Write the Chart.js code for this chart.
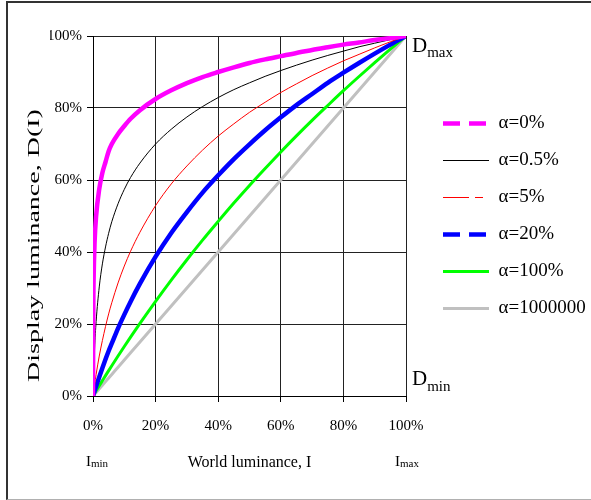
<!DOCTYPE html>
<html><head><meta charset="utf-8">
<script src="https://cdn.jsdelivr.net/npm/chart.js@4.4.0/dist/chart.umd.min.js"></script>
<style>
html,body{margin:0;padding:0;background:#fff;overflow:hidden}
#wrap{position:relative;width:591px;height:500px;overflow:hidden}
#frame{position:absolute;left:6px;top:1px;width:620px;height:499px;box-sizing:border-box;border-left:2px solid #333;border-top:2px solid #333;border-bottom:1px solid #b0b0b0;pointer-events:none}
canvas{position:absolute;left:0;top:0}
</style></head><body>
<div id="wrap"><canvas id="c" width="591" height="500"></canvas><div id="frame"></div></div>
<script>
// World luminance I (%) sample positions
const xValues = [0, 0.1, 0.2, 0.5, 1, 2, 3, 4, 5, 6, 8, 10, 12, 15, 20, 25, 30, 35, 40, 45, 50, 55, 60, 65, 70, 75, 80, 85, 90, 95, 100];
// Display luminance D(I) (%) for each alpha
const alpha0 = [0, 25, 32.5, 42.5, 50, 57.5, 62, 65, 68, 70, 72.8, 75, 77, 79.4, 82.5, 84.9, 86.9, 88.6, 90, 91.3, 92.5, 93.5, 94.4, 95.3, 96.1, 96.9, 97.6, 98.2, 98.9, 99.4, 100];
const alpha05 = [0, 3.4, 6.3, 13.1, 20.7, 30.3, 36.7, 41.4, 45.2, 48.4, 53.4, 57.4, 60.7, 64.7, 70.0, 74.1, 77.5, 80.4, 82.9, 85.1, 87.0, 88.8, 90.4, 91.9, 93.3, 94.6, 95.8, 97.0, 98.0, 99.0, 100];
const alpha5 = [0, 0.65, 1.3, 3.1, 6.0, 11.1, 15.4, 19.3, 22.8, 25.9, 31.4, 36.1, 40.2, 45.5, 52.9, 58.9, 63.9, 68.3, 72.2, 75.6, 78.8, 81.6, 84.3, 86.7, 89.0, 91.1, 93.1, 94.9, 96.7, 98.4, 100];
const alpha20 = [0, 0.28, 0.56, 1.4, 2.7, 5.3, 7.8, 10.2, 12.5, 14.6, 18.8, 22.6, 26.2, 31.2, 38.7, 45.3, 51.1, 56.5, 61.3, 65.8, 69.9, 73.8, 77.4, 80.8, 83.9, 87.0, 89.8, 92.5, 95.1, 97.6, 100];
const alpha100 = [0, 0.14, 0.29, 0.72, 1.44, 2.86, 4.26, 5.66, 7.04, 8.41, 11.1, 13.75, 16.35, 20.16, 26.3, 32.2, 37.85, 43.3, 48.5, 53.6, 58.5, 63.2, 67.8, 72.25, 76.55, 80.7, 84.8, 88.75, 92.6, 96.35, 100];
const alphaBig = [0, 0.1, 0.2, 0.5, 1, 2, 3, 4, 5, 6, 8, 10, 12, 15, 20, 25, 30, 35, 40, 45, 50, 55, 60, 65, 70, 75, 80, 85, 90, 95, 100];
const seriesLabels = ['α=0%', 'α=0.5%', 'α=5%', 'α=20%', 'α=100%', 'α=1000000'];
const seriesValues = [alpha0, alpha05, alpha5, alpha20, alpha100, alphaBig];
const tickValues = [0, 20, 40, 60, 80, 100];

// styles
const colors = ['#ff00ff', '#000000', '#ff0000', '#0000ff', '#00ff00', '#c0c0c0'];
const widths = [4.5, 1, 1, 4.5, 3, 3];
const legendDashes = [[17, 9], [], [26, 6, 8, 8, 3, 40], [17, 9], [], []];
const FONT = "'Liberation Serif', 'Times New Roman', serif";

Chart.defaults.font.family = FONT;
Chart.defaults.color = '#000';

const datasets = seriesValues.map((vals, i) => ({
  label: seriesLabels[i],
  data: xValues.map((x, j) => ({x: x, y: vals[j]})),
  borderColor: colors[i],
  backgroundColor: colors[i],
  borderWidth: widths[i],
  pointRadius: 0,
  pointHoverRadius: 0,
  pointStyle: 'line',
  fill: false,
  cubicInterpolationMode: 'monotone'
}));

const annot = {
  id: 'annot',
  afterDraw(chart) {
    const {ctx} = chart;
    const x = chart.scales.x, y = chart.scales.y;
    ctx.save();
    ctx.fillStyle = '#000';
    ctx.textAlign = 'left';
    ctx.textBaseline = 'alphabetic';
    function sub(main, s, px, py, ms, ss, dy) {
      ctx.font = ms + 'px ' + FONT;
      ctx.fillText(main, px, py);
      const w = ctx.measureText(main).width;
      ctx.font = ss + 'px ' + FONT;
      ctx.fillText(s, px + w, py + dy);
    }
    sub('D', 'max', x.right + 6, y.getPixelForValue(100) + 16, 21, 15, 5);
    sub('D', 'min', x.right + 6, y.getPixelForValue(0) - 11, 21, 15, 6);
    sub('I', 'min', x.getPixelForValue(0) - 7, 466, 15, 11, 1);
    sub('I', 'max', x.getPixelForValue(100) - 11, 466, 15, 11, 1);
    // y axis title
    ctx.translate(34, 382);
    ctx.rotate(-Math.PI / 2);
    ctx.scale(1, 0.62);
    ctx.font = '28px ' + FONT;
    ctx.textBaseline = 'middle';
    ctx.fillText('Display luminance, D(I)', 0, 0);
    ctx.restore();
  }
};

new Chart(document.getElementById('c'), {
  type: 'line',
  data: {datasets: datasets},
  options: {
    responsive: false,
    animation: false,
    devicePixelRatio: 1,
    layout: {padding: {left: 50, top: 36, right: 0, bottom: 10}},
    plugins: {
      tooltip: {enabled: false},
      legend: {
        position: 'right',
        align: 'center',
        fullSize: false,
        maxWidth: 166,
        labels: {
          usePointStyle: true,
          pointStyleWidth: 46,
          padding: 18,
          color: '#000',
          font: {size: 19, family: FONT},
          generateLabels(chart) {
            return chart.data.datasets.map((ds, i) => ({
              text: ds.label,
              fillStyle: ds.borderColor,
              strokeStyle: ds.borderColor,
              lineWidth: ds.borderWidth,
              lineDash: legendDashes[i],
              lineCap: 'butt',
              pointStyle: 'line',
              hidden: false,
              datasetIndex: i,
              fontColor: '#000'
            }));
          }
        }
      }
    },
    scales: {
      x: {
        type: 'linear', position: 'bottom', min: 0, max: 100,
        afterBuildTicks(s) { s.ticks = tickValues.map(v => ({value: v})); },
        ticks: {callback: v => v + '%', font: {size: 15}, padding: 15, maxRotation: 0, autoSkip: false, color: '#000'},
        grid: {color: '#222', lineWidth: 1, drawTicks: true, tickLength: 6, tickColor: '#000'},
        border: {display: true, color: '#000', width: 1},
        title: {display: true, text: 'World luminance, I', font: {size: 16}, color: '#000', padding: {top: 0, bottom: 18}},
        afterFit(s) { s.height = 94; }
      },
      y: {
        type: 'linear', position: 'left', min: 0, max: 100,
        afterBuildTicks(s) { s.ticks = tickValues.map(v => ({value: v})); },
        ticks: {callback: v => v + '%', font: {size: 15}, padding: 5, color: '#000'},
        grid: {color: '#222', lineWidth: 1, drawTicks: true, tickLength: 6, tickColor: '#000'},
        border: {display: true, color: '#000', width: 1},
        afterFit(s) { s.width = 43; }
      },
      yR: {
        type: 'linear', position: 'right', min: 0, max: 100, display: true,
        grid: {display: false, drawTicks: false},
        border: {display: false},
        ticks: {display: false},
        afterFit(s) { s.width = 19; }
      }
    }
  },
  plugins: [annot]
});
</script></body></html>
